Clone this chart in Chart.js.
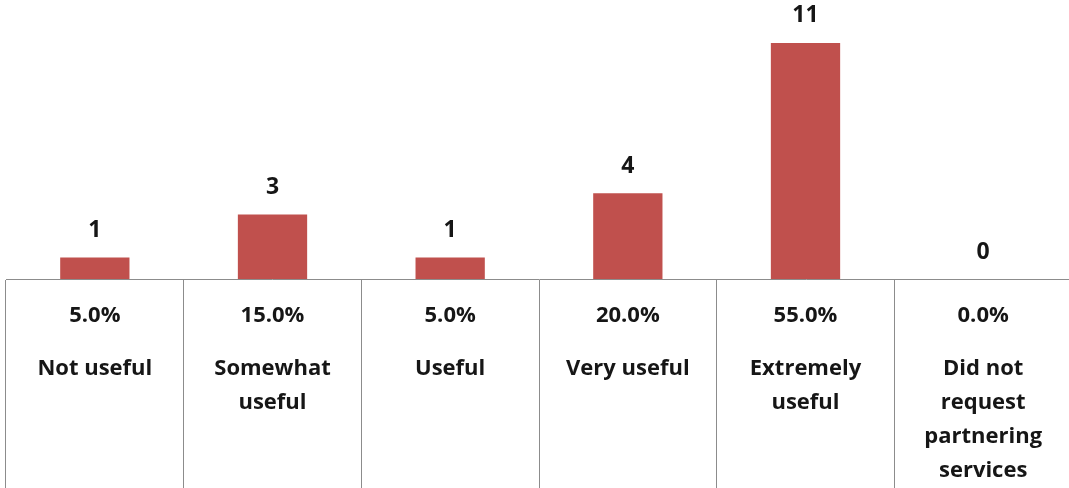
<!DOCTYPE html>
<html>
<head>
<meta charset="utf-8">
<script src="https://cdn.jsdelivr.net/npm/chart.js@4.4.1/dist/chart.umd.min.js"></script>
<style>
  html, body { margin: 0; padding: 0; background: #fff; overflow: hidden; }
  #wrap { width: 1072px; height: 488px; position: relative; }
</style>
</head>
<body>
<div id="wrap"><canvas id="chart"></canvas></div>
<script>
// Data
const categories = [
  ['Not useful'],
  ['Somewhat', 'useful'],
  ['Useful'],
  ['Very useful'],
  ['Extremely', 'useful'],
  ['Did not', 'request', 'partnering', 'services']
];
const counts = [1, 3, 1, 4, 11, 0];
const percents = ['5.0%', '15.0%', '5.0%', '20.0%', '55.0%', '0.0%'];

const barColor = '#C0504D';
const lineColor = '#8c8c8c';
const textColor = '#161616';
const fontFamily = '"Open Sans", "DejaVu Sans", sans-serif';

// Draws the count above each bar and the table text below the axis
const tableTextPlugin = {
  id: 'tableText',
  afterDatasetsDraw(chart) {
    const ctx = chart.ctx;
    const meta = chart.getDatasetMeta(0);
    const xScale = chart.scales.x;
    const axisY = chart.chartArea.bottom;

    ctx.save();
    ctx.fillStyle = textColor;
    ctx.textAlign = 'center';
    ctx.textBaseline = 'middle';

    // value labels
    ctx.font = 'bold 23px ' + fontFamily;
    meta.data.forEach((bar, i) => {
      ctx.fillText(String(counts[i]), bar.x, bar.y - 27);
    });

    // percent row and category names
    categories.forEach((lines, i) => {
      const x = xScale.getPixelForValue(i);
      ctx.font = 'bold 22px ' + fontFamily;
      ctx.fillText(percents[i], x, axisY + 37);
      lines.forEach((line, k) => {
        ctx.fillText(line, x, axisY + 90 + k * 34);
      });
    });
    ctx.restore();
  }
};

new Chart(document.getElementById('chart'), {
  type: 'bar',
  data: {
    labels: categories,
    datasets: [{
      data: counts,
      backgroundColor: barColor,
      borderWidth: 0,
      barPercentage: 0.39,
      categoryPercentage: 1
    }]
  },
  options: {
    responsive: true,
    maintainAspectRatio: false,
    animation: false,
    layout: { padding: { left: 6, right: 0, top: 0, bottom: 0 } },
    plugins: {
      legend: { display: false },
      tooltip: { enabled: false }
    },
    scales: {
      x: {
        offset: true,
        border: { display: true, color: lineColor, width: 1 },
        grid: {
          offset: true,
          drawOnChartArea: false,
          drawTicks: true,
          tickLength: 209,
          color: lineColor,
          lineWidth: 1
        },
        ticks: { display: false }
      },
      y: {
        display: false,
        min: 0,
        max: 13
      }
    }
  },
  plugins: [tableTextPlugin]
});
</script>
</body>
</html>
